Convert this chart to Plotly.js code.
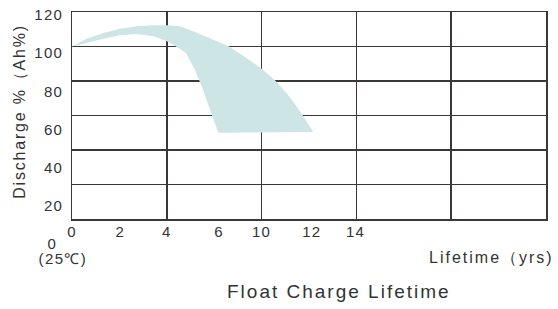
<!DOCTYPE html>
<html>
<head>
<meta charset="utf-8">
<script src="https://cdn.plot.ly/plotly-3.0.1.min.js"></script>
<style>
  html, body { margin: 0; padding: 0; background: #fff; }
  #chart { width: 558px; height: 309px; }
  .main-svg text { letter-spacing: 1.2px; }
  g.annotation[data-index="1"] text { letter-spacing: 1.4px; }
  g.annotation[data-index="2"] text { letter-spacing: 2.0px; }
  g.annotation[data-index="3"] text { letter-spacing: 2.0px; }
  g.annotation[data-index="4"] text { letter-spacing: 1.8px; }
</style>
</head>
<body>
<div id="chart"></div>
<script>
// ---- data (x in axis-position units, y in Discharge % (Ah%)) ----
const upperX = [0, 0.155, 0.33, 0.506, 0.682, 0.858, 0.999, 1.139, 1.297, 1.508, 1.649, 1.825, 2.001, 2.141, 2.282, 2.423, 2.545];
const upperY = [100, 104.5, 107.8, 110.3, 111.7, 112.3, 112.3, 111.7, 108.4, 103.6, 100.3, 93.9, 87.1, 80.4, 71.7, 61.0, 50.4];
const lowerX = [1.543, 1.498, 1.445, 1.371, 1.297, 1.203, 1.069, 0.999, 0.858, 0.682, 0.506, 0.33, 0.155, 0];
const lowerY = [50.0, 56.8, 65.5, 76.5, 86.4, 96.2, 101.0, 103.0, 105.9, 107.2, 106.5, 104.5, 102.0, 100];

const xTickPos  = [0, 0.51, 1, 1.55, 2, 2.53, 2.99];
const xTickText = ['0', '2', '4', '6', '10', '12', '14'];
const yTickVals = [20, 40, 60, 80, 100, 120];
const yTickText = ['20', '40', '60', '80', '100', '120'];
const yZeroLabel = '0';
const tempLabel = '(25\u2103)';
const xUnitLabel = 'Lifetime\uFF08yrs)';
const yTitle = 'Discharge %\uFF08Ah%)';
const chartTitle = 'Float Charge Lifetime';

// closed polygon of the band
const bandX = upperX.concat(lowerX);
const bandY = upperY.concat(lowerY);

const FONT = 'Liberation Sans, Arial, Helvetica, sans-serif';
const TXT = '#333333';
const GRID = '#3b3737';

const traces = [{
  x: bandX, y: bandY,
  type: 'scatter', mode: 'lines',
  line: { width: 0, color: 'rgba(0,0,0,0)' },
  fill: 'toself', fillcolor: '#cde6e5',
  hoverinfo: 'skip', showlegend: false,
  xaxis: 'x', yaxis: 'y'
}, {
  // invisible carrier so the label axes (x2 / y2) are drawn
  x: [xTickPos[0]], y: [yTickVals[0]],
  type: 'scatter', mode: 'markers',
  marker: { opacity: 0, size: 1 },
  hoverinfo: 'skip', showlegend: false,
  xaxis: 'x2', yaxis: 'y2'
}];

const layout = {
  width: 558, height: 309,
  margin: { l: 72, r: 12, t: 12, b: 90 },
  paper_bgcolor: '#ffffff', plot_bgcolor: '#ffffff',
  showlegend: false,
  font: { family: FONT, color: TXT, size: 15 },
  xaxis: {
    range: [0, 5], dtick: 1, tick0: 0, layer: 'below traces',
    showgrid: true, gridcolor: GRID, gridwidth: 1.5,
    showline: true, mirror: true, linecolor: GRID, linewidth: 1.5,
    zeroline: false, showticklabels: false, ticks: '', fixedrange: true
  },
  xaxis2: {
    overlaying: 'x', anchor: 'y2', side: 'bottom', layer: 'below traces',
    range: [0, 5], tickmode: 'array', tickvals: xTickPos, ticktext: xTickText,
    showgrid: false, zeroline: false, showline: false, ticks: '',
    tickfont: { family: FONT, size: 15, color: TXT }, ticklabelstandoff: 2
  },
  yaxis: {
    range: [0, 120], dtick: 20, tick0: 0, layer: 'below traces',
    showgrid: true, gridcolor: GRID, gridwidth: 1.5,
    showline: true, mirror: true, linecolor: GRID, linewidth: 1.5,
    zeroline: false, showticklabels: false, ticks: '', fixedrange: true
  },
  yaxis2: {
    overlaying: 'y', anchor: 'x2', side: 'left', layer: 'below traces',
    range: [13.19, 121.57], tickmode: 'array', tickvals: yTickVals, ticktext: yTickText,
    showgrid: false, zeroline: false, showline: false, ticks: '',
    tickfont: { family: FONT, size: 15, color: TXT }, ticklabelstandoff: 8
  },
  annotations: [
    { text: yZeroLabel, xref: 'paper', yref: 'paper', x: -0.0422, y: -0.116,
      xanchor: 'center', yanchor: 'middle', showarrow: false,
      font: { family: FONT, size: 15, color: TXT } },
    { text: tempLabel, xref: 'paper', yref: 'paper', x: -0.018, y: -0.19,
      xanchor: 'center', yanchor: 'middle', showarrow: false,
      font: { family: FONT, size: 15, color: TXT } },
    { text: xUnitLabel, xref: 'paper', yref: 'paper', x: 0.994, y: -0.188,
      xanchor: 'right', yanchor: 'middle', showarrow: false,
      font: { family: FONT, size: 16, color: TXT } },
    { text: chartTitle, xref: 'paper', yref: 'paper', x: 0.564, y: -0.35,
      xanchor: 'center', yanchor: 'middle', showarrow: false,
      font: { family: FONT, size: 19, color: TXT } },
    { text: yTitle, xref: 'paper', yref: 'paper', x: -0.1118, y: 0.52,
      xanchor: 'center', yanchor: 'middle', showarrow: false, textangle: -90,
      font: { family: FONT, size: 16, color: TXT } }
  ]
};

Plotly.newPlot('chart', traces, layout, { displayModeBar: false, staticPlot: true });
</script>
</body>
</html>
